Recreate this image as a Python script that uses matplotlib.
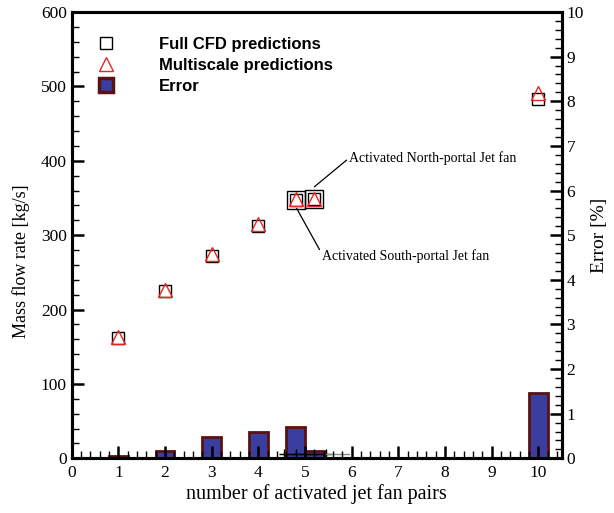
import matplotlib
matplotlib.use('Agg')
import matplotlib.pyplot as plt
from matplotlib.lines import Line2D
from matplotlib.ticker import MultipleLocator

# ---- data ----
pairs = [1, 2, 3, 4, 4.8, 5.2, 10]
cfd_flow = [162, 225, 272, 312, 347, 349, 483]
multi_flow = [163, 226, 275, 315, 349, 349, 491]
error_pct = [0.05, 0.17, 0.47, 0.59, 0.71, 0.17, 1.46]

highlight_x = [4.8, 5.2]
highlight_y = [347, 349]

trace_x = [4.55, 4.8, 5.0, 5.2, 5.45]
trace_err = [0.09, 0.09, 0.09, 0.09, 0.09]
trace_gray_x = [5.45, 5.95]
trace_gray_err = [0.09, 0.09]

x_ticks = [0, 1, 2, 3, 4, 5, 6, 7, 8, 9, 10]

bar_face = '#3a3f9f'
bar_edge = '#5a1212'
tri_red = '#e8261f'

serif = ['Liberation Serif', 'DejaVu Serif']
sans = ['Liberation Sans', 'DejaVu Sans']

fig = plt.figure(figsize=(6.14, 5.13), dpi=100)
ax = fig.add_axes([0.1168, 0.1066, 0.7980, 0.8700])
ax2 = ax.twinx()

# error bars on right axis
ax2.bar(pairs, error_pct, width=0.4, color=bar_face, edgecolor=bar_edge,
        linewidth=2.0, zorder=2)
ax2.plot(trace_x, trace_err, color='black', lw=1.0, marker='+', ms=7, mew=1.0, zorder=3)
ax2.plot(trace_gray_x, trace_gray_err, color='#888888', lw=1.0, zorder=3)

# predictions on left axis
ax.set_zorder(ax2.get_zorder() + 1)
ax.patch.set_visible(False)
ax.plot(pairs, cfd_flow, linestyle='none', marker='s', ms=8.6, mfc='none',
        mec='black', mew=1.0, zorder=4)
ax.plot(pairs, multi_flow, linestyle='none', marker='^', ms=9.5, mfc='none',
        mec=tri_red, mew=1.0, zorder=5)
ax.plot(highlight_x, highlight_y, linestyle='none', marker='s', ms=12.5, mfc='none',
        mec='black', mew=1.0, zorder=5)

# annotations
ax.annotate('Activated North-portal Jet fan', xy=(5.2, 365), xytext=(5.95, 404),
            ha='left', va='center', fontsize=10, family=serif,
            arrowprops=dict(arrowstyle='-', lw=0.9, color='black', shrinkA=0, shrinkB=0,
                            relpos=(0, 0.5)))
ax.annotate('Activated South-portal Jet fan', xy=(4.82, 336), xytext=(5.37, 272),
            ha='left', va='center', fontsize=10, family=serif,
            arrowprops=dict(arrowstyle='-', lw=0.9, color='black', shrinkA=0, shrinkB=0,
                            relpos=(0, 0.6)))

# axes limits / ticks
ax.set_xlim(0, 10.5)
ax.set_ylim(0, 600)
ax2.set_ylim(0, 10)
ax.set_xticks(x_ticks)
ax.xaxis.set_minor_locator(MultipleLocator(0.2))
ax.yaxis.set_major_locator(MultipleLocator(100))
ax.yaxis.set_minor_locator(MultipleLocator(20))
ax2.yaxis.set_major_locator(MultipleLocator(1))
ax2.yaxis.set_minor_locator(MultipleLocator(0.2))

for a in (ax, ax2):
    for s in a.spines.values():
        s.set_linewidth(2.2)
    a.tick_params(which='major', direction='in', length=8.5, width=1.8, labelsize=12.5)
    a.tick_params(which='minor', direction='in', length=5, width=1.0)
    for lbl in a.get_xticklabels() + a.get_yticklabels():
        lbl.set_family(serif)
ax.tick_params(top=False, right=False, which='both')
ax2.tick_params(left=False, which='both')
ax.tick_params(axis='x', pad=5)

ax.set_xlabel('number of activated jet fan pairs', fontsize=14.5, family=serif, labelpad=2)
ax.set_ylabel('Mass flow rate [kg/s]', fontsize=13, family=serif)
ax.yaxis.set_label_coords(-0.086, 0.442)
ax2.set_ylabel('Error [%]', fontsize=14, family=serif, labelpad=5)

# legend
handles = [
    Line2D([], [], linestyle='none', marker='s', ms=9, mfc='none', mec='black', mew=1.0),
    Line2D([], [], linestyle='none', marker='^', ms=10, mfc='none', mec=tri_red, mew=1.0),
    Line2D([], [], linestyle='none', marker='s', ms=10.5, mfc=bar_face, mec=bar_edge, mew=2.5),
]
labels = ['Full CFD predictions', 'Multiscale predictions', 'Error']
leg = ax.legend(handles, labels, loc='upper left', bbox_to_anchor=(0.014, 0.977),
                frameon=False, handlelength=1.5, handletextpad=2.43, labelspacing=0.35,
                prop={'family': sans, 'weight': 'bold', 'size': 12})

fig.savefig('out.png', dpi=100)
